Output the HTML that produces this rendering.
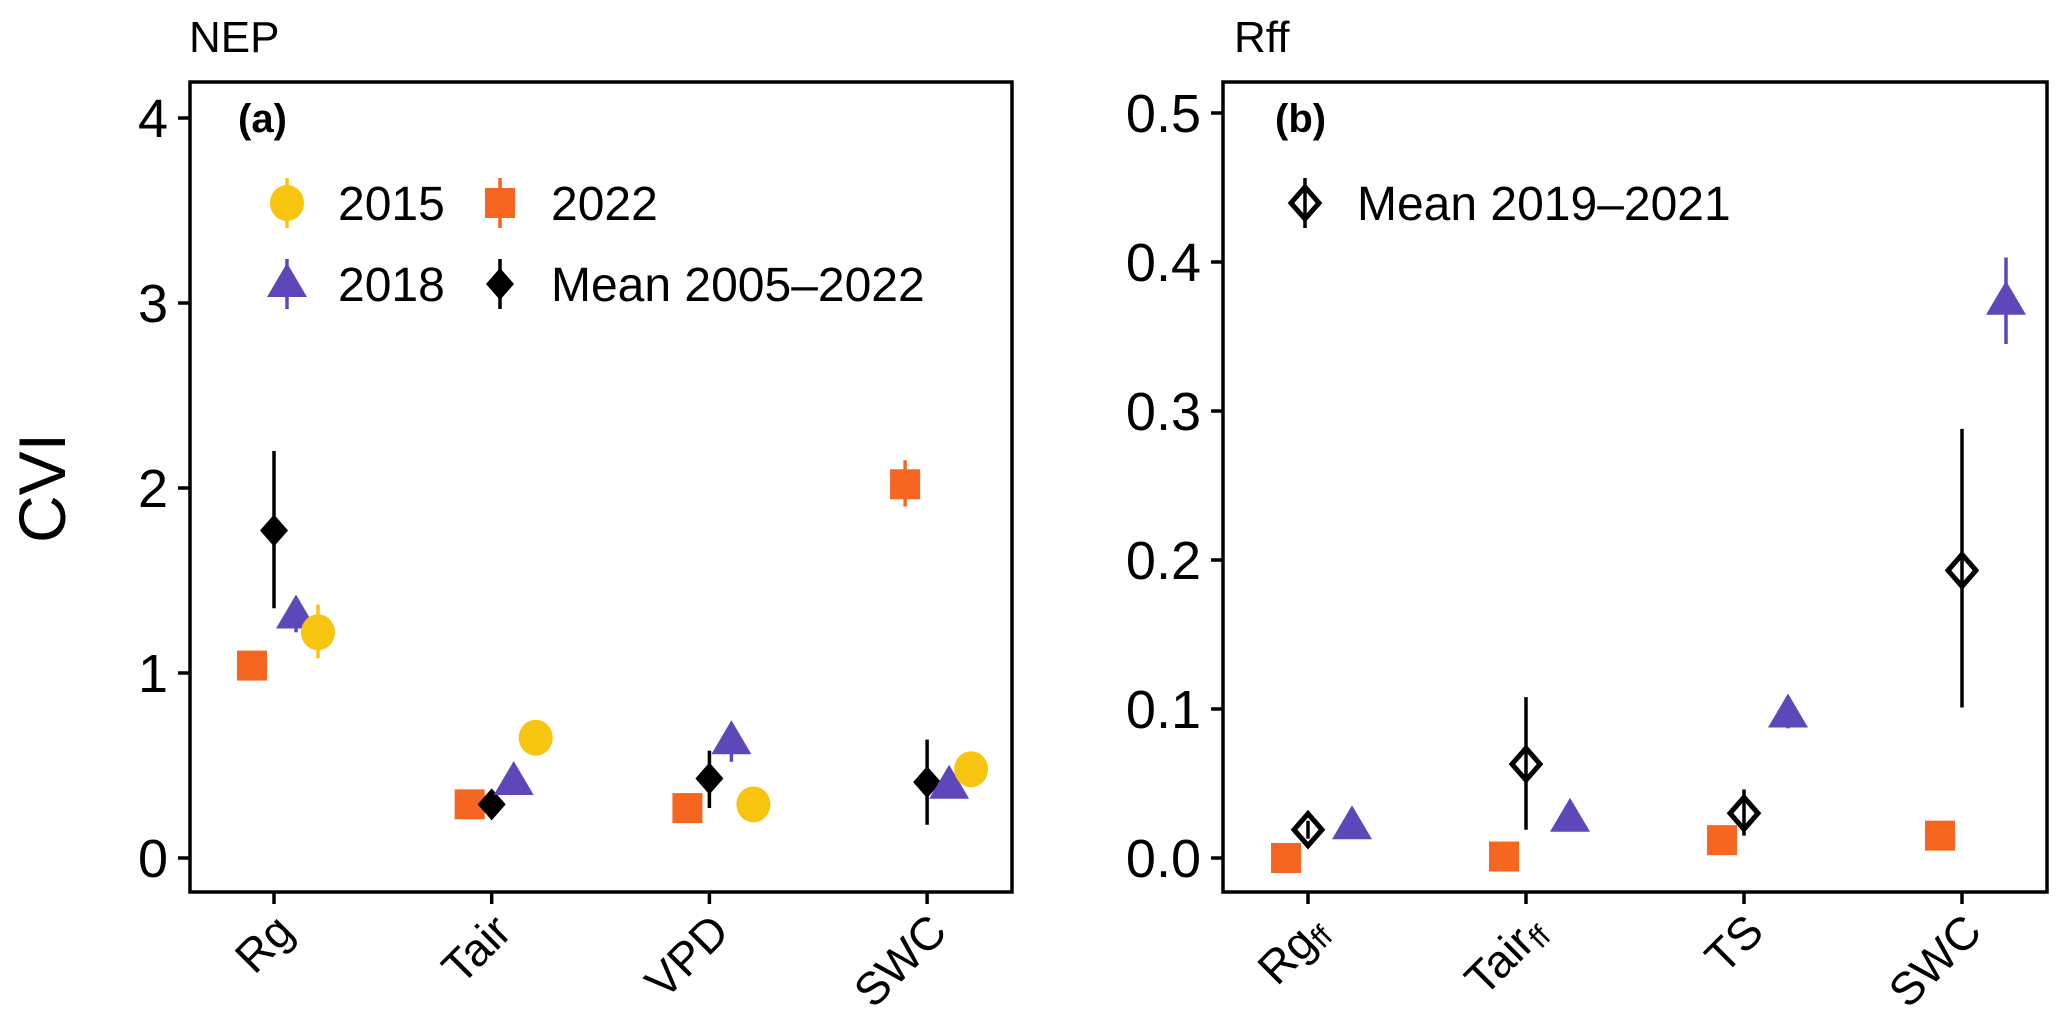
<!DOCTYPE html>
<html><head><meta charset="utf-8"><style>
html,body{margin:0;padding:0;background:#fff}
svg text{font-family:"Liberation Sans",Arial,sans-serif}
</style></head><body>
<svg id="chart" width="2067" height="1018" viewBox="0 0 2067 1018" xmlns="http://www.w3.org/2000/svg">
<text x="189" y="52" font-size="44">NEP</text>
<text x="1234" y="52" font-size="44">Rff</text>
<text transform="translate(65,488) rotate(-90)" text-anchor="middle" font-size="66">CVI</text>
<g id="pa"></g>
<g id="pb"></g>
</svg>
<script>
// Panel A data
const catsA = ["Rg","Tair","VPD","SWC"];
const y2022A = [1.04,0.29,0.27,2.02];
const e2022A = [[1.04,1.04],[0.29,0.29],[0.27,0.27],[1.90,2.15]];
const yMeanA = [1.77,0.29,0.43,0.41];
const eMeanA = [[1.35,2.20],[0.25,0.33],[0.27,0.58],[0.18,0.64]];
const y2018A = [1.30,0.40,0.62,0.38];
const e2018A = [[1.22,1.38],[0.40,0.40],[0.52,0.70],[0.38,0.38]];
const y2015A = [1.22,0.65,0.29,0.48];
const e2015A = [[1.08,1.37],[0.65,0.65],[0.29,0.29],[0.48,0.48]];
const ticksA = [0,1,2,3,4];
// Panel B data
const catsB = ["Rg","Tair","TS","SWC"];
const subB = ["ff","ff","",""];
const y2022B = [0.0,0.001,0.012,0.015];
const yMeanB = [0.019,0.063,0.030,0.193];
const eMeanB = [[0.013,0.025],[0.019,0.108],[0.015,0.046],[0.101,0.288]];
const y2018B = [0.020,0.025,0.095,0.372];
const e2018B = [[0.020,0.020],[0.025,0.025],[0.087,0.098],[0.345,0.403]];
const ticksB = ["0.0","0.1","0.2","0.3","0.4","0.5"];

const NS="http://www.w3.org/2000/svg";
const C15="#F7C410",C18="#5E48B9",C22="#F66621";
function mk(p,t,a){const e=document.createElementNS(NS,t);for(const k in a)e.setAttribute(k,a[k]);p.appendChild(e);return e;}
function marker(g,shape,cx,cy,col,hollow){
  let e;
  if(shape==="circle"){e=mk(g,"ellipse",{cx:cx,cy:cy,rx:17,ry:18,fill:col});}
  else if(shape==="square"){e=mk(g,"rect",{x:cx-15,y:cy-15,width:30,height:30,fill:col});}
  else if(shape==="tri"){e=mk(g,"polygon",{points:`${cx},${cy-23} ${cx+20},${cy+11} ${cx-20},${cy+11}`,fill:col});}
  else {e=mk(g,"polygon",{points:`${cx},${cy-16} ${cx+14},${cy} ${cx},${cy+16} ${cx-14},${cy}`,fill:hollow?"none":col,stroke:col,"stroke-width":hollow?5:0});}
  return e;
}
function panel(g,L,R,T,B){
  const f=mk(g,"rect",{x:L,y:T,width:R-L,height:B-T,fill:"none",stroke:"#000","stroke-width":3.5});
  
  
}
function erbar(g,x,y1,y2,col){const l=mk(g,"line",{x1:x,x2:x,y1:y1,y2:y2,stroke:col,"stroke-width":3.5});
  
  }

// ---- Panel A ----
(function(){
  const g=document.getElementById("pa");
  const L=190,R=1012,T=82,B=892;
  const xA=i=>274+i*217.7;
  const yA=v=>858-v*185;
  panel(g,L,R,T,B);
  ticksA.forEach(t=>{
    const y=yA(t);
    const tk=mk(g,"line",{x1:L-12,x2:L,y1:y,y2:y,stroke:"#000","stroke-width":3.5});
    
    
    const tx=mk(g,"text",{x:L-22,y:y+19,"text-anchor":"end","font-size":54});
    tx.textContent=t;
    
    
  });
  catsA.forEach((c,i)=>{
    const x=xA(i);
    const tk=mk(g,"line",{x1:x,x2:x,y1:B,y2:B+12,stroke:"#000","stroke-width":3.5});
    
    
    const tx=mk(g,"text",{transform:`translate(${x+22},${B+42}) rotate(-45)`,"text-anchor":"end","font-size":46});
    tx.textContent=c;
    
    
  });
  catsA.forEach((c,i)=>{
    const x=xA(i);
    erbar(g,x-22,yA(e2022A[i][0]),yA(e2022A[i][1]),C22);
    const m1=marker(g,"square",x-22,yA(y2022A[i]),C22);
    
    
    erbar(g,x,yA(eMeanA[i][0]),yA(eMeanA[i][1]),"#000");
    const m2=marker(g,"diamond",x,yA(yMeanA[i]),"#000",false);
    
    
    erbar(g,x+22,yA(e2018A[i][0]),yA(e2018A[i][1]),C18);
    const m3=marker(g,"tri",x+22,yA(y2018A[i]),C18);
    
    
    erbar(g,x+44,yA(e2015A[i][0]),yA(e2015A[i][1]),C15);
    const m4=marker(g,"circle",x+44,yA(y2015A[i]),C15);
    
    
  });
  const lab=mk(g,"text",{x:238,y:132,"font-size":40,"font-weight":"bold"});lab.textContent="(a)";
  
  
  const leg=[["circle",C15,"2015",287,203],["square",C22,"2022",500,203],["tri",C18,"2018",287,284],["diamond","#000","Mean 2005–2022",500,284]];
  leg.forEach(d=>{
    erbar(g,d[3],d[4]-25,d[4]+25,d[1]);
    marker(g,d[0],d[3],d[4]+(d[0]==="tri"?2:0),d[1],false);
    const t=mk(g,"text",{x:d[3]+51,y:d[4]+17,"font-size":48});t.textContent=d[2];
    
    
  });
})();

// ---- Panel B ----
(function(){
  const g=document.getElementById("pb");
  const L=1223,R=2047,T=82,B=892;
  const xB=i=>1308+i*218;
  const yB=v=>858-v*1490;
  panel(g,L,R,T,B);
  ticksB.forEach(t=>{
    const y=yB(parseFloat(t));
    const tk=mk(g,"line",{x1:L-12,x2:L,y1:y,y2:y,stroke:"#000","stroke-width":3.5});
    
    
    const tx=mk(g,"text",{x:L-22,y:y+19,"text-anchor":"end","font-size":54});
    tx.textContent=t;
    
    
  });
  catsB.forEach((c,i)=>{
    const x=xB(i);
    const tk=mk(g,"line",{x1:x,x2:x,y1:B,y2:B+12,stroke:"#000","stroke-width":3.5});
    
    
    const tx=mk(g,"text",{transform:`translate(${x+22},${B+42}) rotate(-45)`,"text-anchor":"end","font-size":46});
    tx.textContent=c;
    if(subB[i]){const s=mk(tx,"tspan",{"font-size":30,dy:6});s.textContent=subB[i];}
    
    
  });
  catsB.forEach((c,i)=>{
    const x=xB(i);
    const m1=marker(g,"square",x-22,yB(y2022B[i]),C22);
    
    
    erbar(g,x,yB(eMeanB[i][0]),yB(eMeanB[i][1]),"#000");
    const m2=marker(g,"diamond",x,yB(yMeanB[i]),"#000",true);
    
    
    erbar(g,x+44,yB(e2018B[i][0]),yB(e2018B[i][1]),C18);
    const m3=marker(g,"tri",x+44,yB(y2018B[i]),C18);
    
    
  });
  const lab=mk(g,"text",{x:1275,y:132,"font-size":40,"font-weight":"bold"});lab.textContent="(b)";
  
  
  erbar(g,1305,178,228,"#000");
  marker(g,"diamond",1305,203,"#000",true);
  const t=mk(g,"text",{x:1357,y:220,"font-size":48});t.textContent="Mean 2019–2021";
  
  
})();
</script>
</body></html>
